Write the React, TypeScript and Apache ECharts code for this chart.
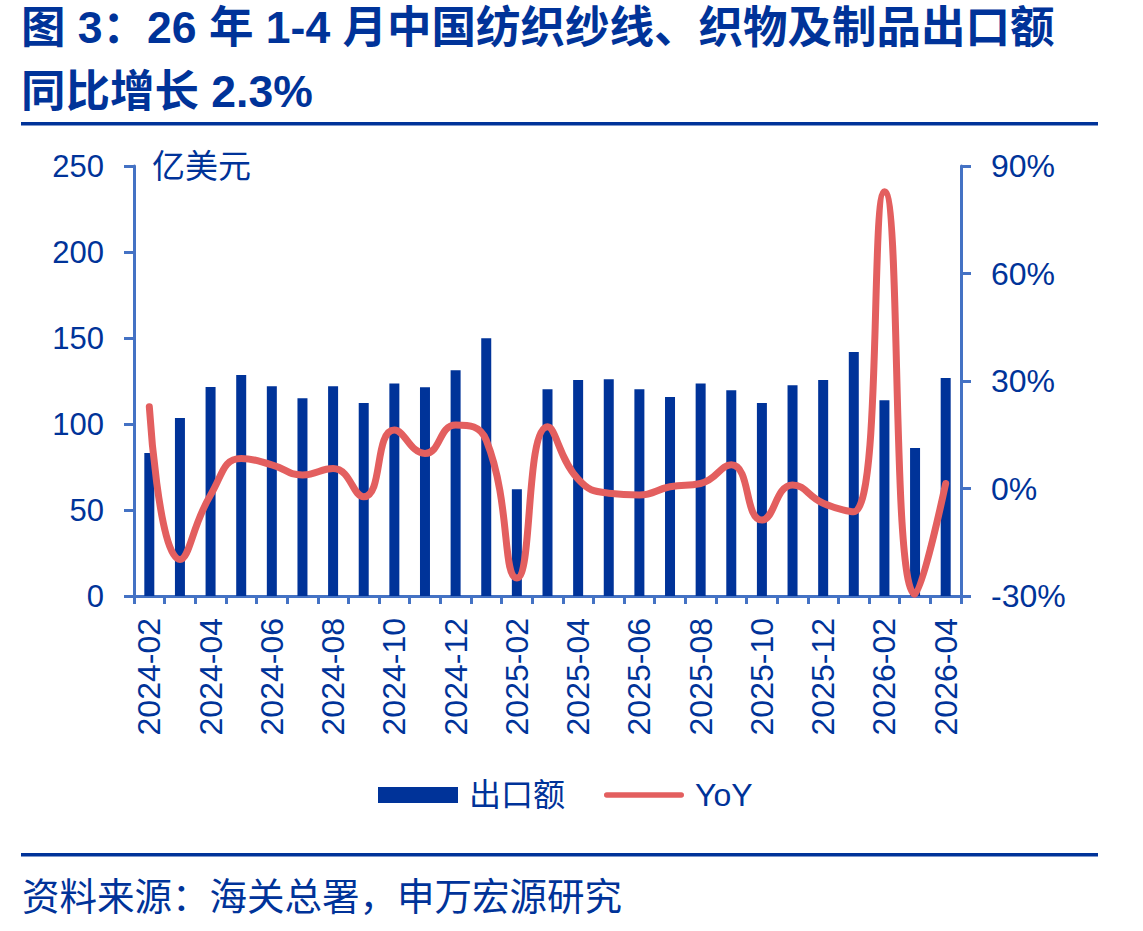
import React, { useEffect, useRef } from "react";
import * as echarts from "echarts";

// 月份
const months = [
  "2024-02", "2024-03", "2024-04", "2024-05", "2024-06", "2024-07", "2024-08",
  "2024-09", "2024-10", "2024-11", "2024-12", "2025-01", "2025-02", "2025-03",
  "2025-04", "2025-05", "2025-06", "2025-07", "2025-08", "2025-09", "2025-10",
  "2025-11", "2025-12", "2026-01", "2026-02", "2026-03", "2026-04",
];

// 出口额（亿美元）
const exportValue = [
  83.1, 103.5, 121.5, 128.5, 122.0, 115.0, 122.0,
  112.2, 123.6, 121.3, 131.2, 149.8, 62.0, 120.2,
  125.6, 126.0, 120.2, 115.7, 123.6, 119.6, 112.2,
  122.5, 125.6, 141.9, 113.8, 86.0, 126.7,
];

// 同比（%）
const yoy = [
  22.8, -19.8, -1.8, 8.4, 6.6, 3.8, 5.6,
  -2.3, 16.3, 9.8, 17.7, 13.5, -25.0, 17.2,
  2.6, -1.3, -1.8, 0.5, 1.4, 6.6, -8.8,
  1.0, -4.1, -6.5, 82.8, -29.5, 1.4,
];

const leftTicks = { min: 0, max: 250, interval: 50 };
const rightTicks = { min: -30, max: 90, interval: 30 };

const NAVY = "#003399";
const AXIS = "#4472C4";
const RED = "#E35F5F";
const FONT = '"Liberation Sans", "Noto Sans CJK SC", sans-serif';

// 图例中的折线样式：圆头粗线
const LINE_ICON = "path://M3,0 H84 A3,3 0 0 1 84,6 H3 A3,3 0 0 1 3,0 Z";

export default function App() {
  const ref = useRef<HTMLDivElement>(null);

  useEffect(() => {
    if (!ref.current) return;
    const chart = echarts.init(ref.current, null, { renderer: "svg" });
    chart.setOption({
      animation: false,
      backgroundColor: "#ffffff",
      textStyle: { fontFamily: FONT },
      grid: { left: 134, right: 182, top: 166, bottom: 335, containLabel: false },
      legend: {
        left: 378,
        top: 779,
        padding: 0,
        itemWidth: 80,
        itemHeight: 16,
        itemGap: 39,
        textStyle: { color: NAVY, fontSize: 32, fontFamily: FONT, padding: [0, 0, 0, 6] },
        data: [
          { name: "出口额", icon: "rect" },
          { name: "YoY", icon: LINE_ICON },
        ],
      },
      xAxis: {
        type: "category",
        data: months,
        boundaryGap: true,
        axisLine: { lineStyle: { color: AXIS, width: 3 } },
        axisTick: { show: true, interval: 0, length: 8, lineStyle: { color: AXIS, width: 3 } },
        axisLabel: {
          interval: 1,
          rotate: 90,
          margin: 22,
          color: NAVY,
          fontSize: 32,
          fontFamily: FONT,
        },
      },
      yAxis: [
        {
          type: "value",
          min: leftTicks.min,
          max: leftTicks.max,
          interval: leftTicks.interval,
          position: "left",
          splitLine: { show: false },
          axisLine: { show: true, lineStyle: { color: AXIS, width: 3 } },
          axisTick: { show: true, length: 10, lineStyle: { color: AXIS, width: 3 } },
          axisLabel: { color: NAVY, fontSize: 31, margin: 30, fontFamily: FONT },
        },
        {
          type: "value",
          min: rightTicks.min,
          max: rightTicks.max,
          interval: rightTicks.interval,
          position: "right",
          splitLine: { show: false },
          axisLine: { show: true, lineStyle: { color: AXIS, width: 3 } },
          axisTick: { show: true, length: 10, lineStyle: { color: AXIS, width: 3 } },
          axisLabel: {
            color: NAVY,
            fontSize: 32,
            margin: 30,
            fontFamily: FONT,
            formatter: (v: number) => `${v}%`,
          },
        },
      ],
      series: [
        {
          name: "出口额",
          type: "bar",
          data: exportValue,
          yAxisIndex: 0,
          barWidth: 10,
          itemStyle: { color: NAVY },
        },
        {
          name: "YoY",
          type: "line",
          data: yoy,
          yAxisIndex: 1,
          smooth: true,
          symbol: "none",
          clip: false,
          lineStyle: { color: RED, width: 7, cap: "round", join: "round" },
          itemStyle: { color: RED },
        },
      ],
      graphic: [
        {
          type: "text",
          left: 21,
          top: 5,
          style: {
            text: "图 3：26 年 1-4 月中国纺织纱线、织物及制品出口额",
            fill: NAVY,
            font: `bold 44.5px ${FONT}`,
          },
        },
        {
          type: "text",
          left: 21,
          top: 69,
          style: {
            text: "同比增长 2.3%",
            fill: NAVY,
            font: `bold 44.5px ${FONT}`,
          },
        },
        {
          type: "rect",
          shape: { x: 21, y: 122, width: 1077, height: 3.5 },
          style: { fill: NAVY },
        },
        {
          type: "text",
          left: 152,
          top: 150,
          style: { text: "亿美元", fill: NAVY, font: `33px ${FONT}` },
        },
        {
          type: "rect",
          shape: { x: 21, y: 853, width: 1077, height: 3.5 },
          style: { fill: NAVY },
        },
        {
          type: "text",
          left: 22,
          top: 878,
          style: {
            text: "资料来源：海关总署，申万宏源研究",
            fill: NAVY,
            font: `37.5px ${FONT}`,
          },
        },
      ],
    });
    return () => chart.dispose();
  }, []);

  return (
    <div
      ref={ref}
      style={{ position: "fixed", left: 0, top: 0, width: 1143, height: 931 }}
    />
  );
}
